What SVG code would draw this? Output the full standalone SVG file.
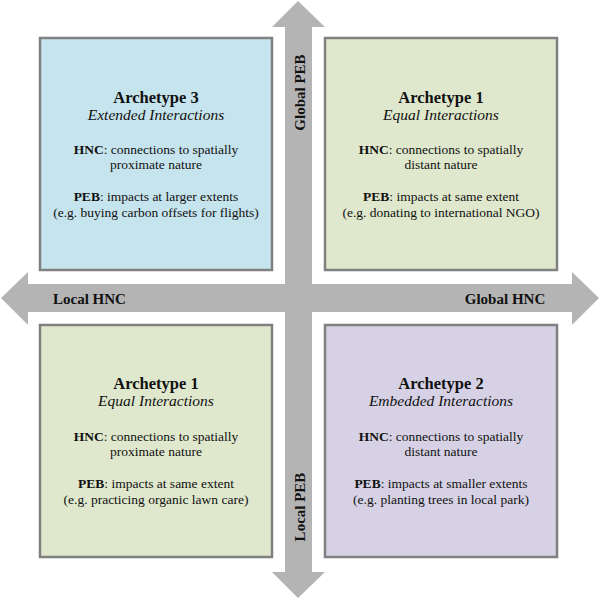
<svg xmlns="http://www.w3.org/2000/svg" width="600" height="600" viewBox="0 0 600 600">
<style>
.box{stroke:#808080;stroke-width:2.5}
.arrow{fill:#b4b4b4}
text{font-family:"Liberation Serif","Times New Roman",serif;fill:#111;text-anchor:middle}
.t{font-size:16.5px;font-weight:bold}
.s{font-size:15.5px;font-style:italic}
.b{font-size:13.5px}
.k{font-weight:bold}
.ax{font-size:15px;font-weight:bold}
</style>
<rect width="600" height="600" fill="#fff"/>
<g id="connectors">
<polygon class="arrow" points="298,1 325,27 312,27 312,284 572,284 572,272 599,298 572,325 572,312 312,312 312,572 325,572 298,598 272,572 285,572 285,312 28,312 28,325 1,298 28,272 28,284 285,284 285,27 272,27"/>
<text class="ax" x="89.5" y="304">Local HNC</text>
<text class="ax" x="505" y="304">Global HNC</text>
<text class="ax" transform="translate(305,92.5) rotate(-90)">Global PEB</text>
<text class="ax" transform="translate(305,507) rotate(-90)">Local PEB</text>
</g>
<g id="archetype3">
<rect class="box" x="40" y="38" width="232" height="232" fill="#c6e4ed"/>
<text class="t" x="156" y="103">Archetype 3</text>
<text class="s" x="156" y="120">Extended Interactions</text>
<text class="b" x="156" y="154"><tspan class="k">HNC</tspan>: connections to spatially</text>
<text class="b" x="156" y="169">proximate nature</text>
<text class="b" x="156" y="201"><tspan class="k">PEB</tspan>: impacts at larger extents</text>
<text class="b" x="156" y="217">(e.g. buying carbon offsets for flights)</text>
</g>
<g id="archetype1-global">
<rect class="box" x="325" y="38" width="232" height="232" fill="#dfe8cd"/>
<text class="t" x="441" y="103">Archetype 1</text>
<text class="s" x="441" y="120">Equal Interactions</text>
<text class="b" x="441" y="154"><tspan class="k">HNC</tspan>: connections to spatially</text>
<text class="b" x="441" y="169">distant nature</text>
<text class="b" x="441" y="201"><tspan class="k">PEB</tspan>: impacts at same extent</text>
<text class="b" x="441" y="217">(e.g. donating to international NGO)</text>
</g>
<g id="archetype1-local">
<rect class="box" x="40" y="325" width="232" height="232" fill="#dfe8cd"/>
<text class="t" x="156" y="389">Archetype 1</text>
<text class="s" x="156" y="406">Equal Interactions</text>
<text class="b" x="156" y="441"><tspan class="k">HNC</tspan>: connections to spatially</text>
<text class="b" x="156" y="456">proximate nature</text>
<text class="b" x="156" y="488"><tspan class="k">PEB</tspan>: impacts at same extent</text>
<text class="b" x="156" y="504">(e.g. practicing organic lawn care)</text>
</g>
<g id="archetype2">
<rect class="box" x="325" y="325" width="232" height="232" fill="#d6d1e4"/>
<text class="t" x="441" y="389">Archetype 2</text>
<text class="s" x="441" y="406">Embedded Interactions</text>
<text class="b" x="441" y="441"><tspan class="k">HNC</tspan>: connections to spatially</text>
<text class="b" x="441" y="456">distant nature</text>
<text class="b" x="441" y="488"><tspan class="k">PEB</tspan>: impacts at smaller extents</text>
<text class="b" x="441" y="504">(e.g. planting trees in local park)</text>
</g>
</svg>
